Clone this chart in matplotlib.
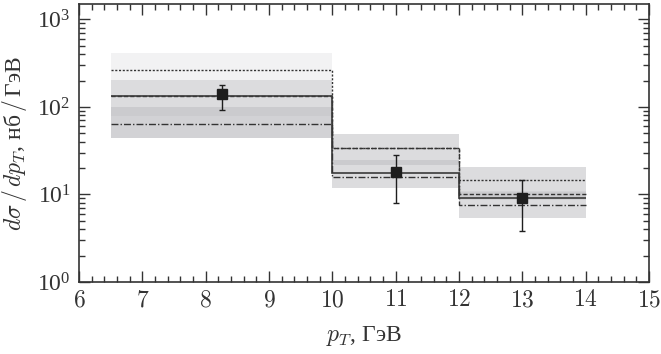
import numpy as np
import matplotlib
matplotlib.use('Agg')
import matplotlib.pyplot as plt
from matplotlib.ticker import MultipleLocator, FuncFormatter, LogLocator, LogFormatterMathtext

plt.rcParams['mathtext.fontset'] = 'cm'
plt.rcParams['font.family'] = ['Liberation Serif', 'DejaVu Serif']

# bin edges, p_T in GeV
edges = [6.5, 10, 12, 14]

# theory curves per bin (nb/GeV)
upper_dotted = [267, 33.9, 14.7]
mid_dashed = [134, 33.9, 10.2]
central_solid = [134, 17.8, 9.2]
lower_dashdot = [64, 16.0, 7.5]

# uncertainty bands (low, high) per bin
band_outer_lo = [44, 12.0, 5.4]
band_outer_hi = [414, 49, 20.5]
band_inner_lo = [44, 12.0, 5.4]
band_inner_hi = [205, 49, 20.5]
band_core_lo = [44, 21.8, 8.6]
band_core_hi = [100, 24.9, 11.0]
band_mid_lo = [78, 21.8, 9.4]
band_mid_hi = [100, 24.9, 10.6]

# data points
data_x = [8.25, 11, 13]
data_y = [140, 17.9, 9.2]
data_lo = [93, 7.95, 3.86]
data_hi = [179, 27.9, 14.5]

fig = plt.figure(figsize=(6.61, 3.54), dpi=100)
ax = fig.add_axes([0.1195, 0.2034, 0.8624, 0.7853])
ax.set_yscale('log')

left = np.array(edges[:-1])
width = np.diff(edges)

def band(lo, hi, alpha):
    lo = np.array(lo, float)
    hi = np.array(hi, float)
    ax.bar(left, hi - lo, bottom=lo, width=width, align='edge',
           color='#2a2a35', alpha=alpha, linewidth=0, zorder=1)

band(band_outer_lo, band_outer_hi, 0.06)
band(band_inner_lo, band_inner_hi, 0.11)
band(band_core_lo, band_core_hi, 0.05)
band(band_mid_lo, band_mid_hi, 0.04)

ax.stairs(upper_dotted, edges, baseline=None, color='#333333', lw=1.0, ls=(0, (1.5, 1.2)), zorder=3)
ax.stairs(mid_dashed, edges, baseline=None, color='#333333', lw=1.0, ls=(0, (3, 1.5)), zorder=3)
ax.stairs(central_solid, edges, baseline=None, color='#3a3a3a', lw=1.2, ls='-', zorder=3)
ax.stairs(lower_dashdot, edges, baseline=None, color='#333333', lw=1.0, ls=(0, (5, 1.5, 1, 1.5)), zorder=3)

yerr = [np.array(data_y) - np.array(data_lo), np.array(data_hi) - np.array(data_y)]
ax.errorbar(data_x, data_y, yerr=yerr, fmt='s', color='#1e1e1e', ms=6.5,
            elinewidth=1.0, capsize=2, capthick=1.0, zorder=5)

ax.set_xlim(6, 15)
ax.set_ylim(1, 1500)

ax.xaxis.set_major_locator(MultipleLocator(1))
ax.xaxis.set_minor_locator(MultipleLocator(0.2))
ax.xaxis.set_major_formatter(FuncFormatter(lambda v, p: f'${v:g}$'))
ax.yaxis.set_major_locator(LogLocator(base=10, numticks=10))
ax.yaxis.set_minor_locator(LogLocator(base=10, subs=np.arange(2, 10), numticks=10))
ax.yaxis.set_major_formatter(LogFormatterMathtext())

ax.tick_params(which='both', direction='in', top=True, right=True,
               labelsize=17, color='#333333', labelcolor='#333333', width=1.0)
ax.tick_params(which='major', length=8, pad=6)
ax.tick_params(which='minor', length=4.5)
for s in ax.spines.values():
    s.set_linewidth(1.2)
    s.set_color('#333333')

ax.set_xlabel(r'$p_T$, ГэВ', fontsize=17, color='#333333', labelpad=9)
ax.set_ylabel(r'$d\sigma\,/\,dp_T$, нб$\,/\,$ГэВ', fontsize=17, color='#333333', labelpad=6)

fig.savefig('out.png', dpi=100)
